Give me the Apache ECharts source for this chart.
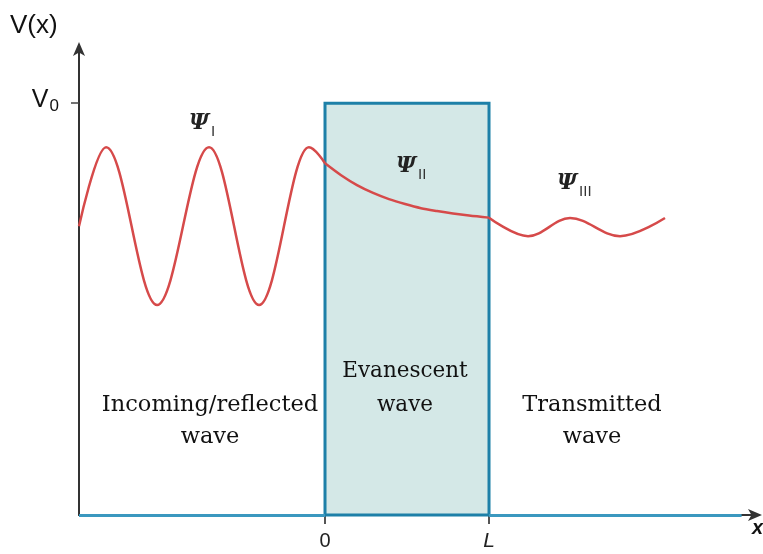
<!DOCTYPE html>
<html>
<head>
<meta charset="utf-8">
<script src="https://cdn.jsdelivr.net/npm/echarts@6/dist/echarts.min.js"></script>
<style>html,body{margin:0;padding:0;background:#fff}#c{width:763px;height:554px}</style>
</head>
<body>
<div id="c"></div>
<script>
// Units: barrier from x=0 to x=L=10, barrier height V0=10
const L = 10;
const V0 = 10;
// Region I: incoming/reflected wave (x, psi) — start, crests and troughs, entry into barrier
const waveI = [
  [-15.0, 7.01], [-13.35, 8.93], [-10.24, 5.10], [-7.07, 8.93], [-4.02, 5.10],
  [-0.98, 8.93], [0, 8.54]
];
// Region II: evanescent wave
const waveII = [
  [0, 8.54], [0.98, 8.25], [1.95, 8.01], [2.93, 7.82], [3.90, 7.67], [4.88, 7.55],
  [5.85, 7.45], [6.83, 7.38], [7.80, 7.32], [8.78, 7.27], [10, 7.22]
];
// Region III: transmitted wave — start, troughs and crests, end
const waveIII = [
  [10, 7.22], [12.38, 6.77], [14.94, 7.21], [17.99, 6.77], [20.73, 7.21]
];
const xTicks = [0, L];
const xTickLabels = ['0', 'L'];
const yTicks = [V0];

const red = '#d64a4a';
const lineBase = { type: 'line', showSymbol: false, symbol: 'none',
  lineStyle: { color: red, width: 2.5 }, z: 5, silent: true };
const psiRich = {
  p: { fontFamily: 'DejaVu Serif', fontStyle: 'italic', fontWeight: 'bold', fontSize: 22, fill: '#222' },
  s: { fontFamily: 'Liberation Sans', fontSize: 15, fill: '#333', padding: [16, 0, 0, 2] }
};
const bodyText = { align: 'center', verticalAlign: 'middle', lineHeight: 32,
  fontFamily: 'DejaVu Serif', fontSize: 22.5, fill: '#111' };

const chart = echarts.init(document.getElementById('c'));
chart.setOption({
  animation: false,
  grid: { left: 79, right: 6, top: 50, bottom: 39 },
  xAxis: {
    type: 'value', min: -15, max: 26.34,
    axisLine: { show: true, onZero: false, lineStyle: { color: '#333', width: 2 }, symbol: ['none', 'arrow'], symbolSize: [9, 14], symbolOffset: [0, 5] },
    axisTick: { show: true, customValues: xTicks, length: 9, inside: false, lineStyle: { color: '#555', width: 2 } },
    axisLabel: { customValues: xTicks, margin: 16,
      formatter: v => v === 0 ? '{n|' + xTickLabels[0] + '}' : '{l|' + xTickLabels[1] + '}',
      rich: { n: { fontFamily: 'Liberation Sans', fontSize: 20, color: '#222' },
              l: { fontFamily: 'Liberation Sans', fontStyle: 'italic', fontSize: 21, color: '#222' } } },
    splitLine: { show: false }
  },
  yAxis: {
    type: 'value', min: 0, max: 11.29,
    axisLine: { show: true, onZero: false, lineStyle: { color: '#333', width: 2 }, symbol: ['none', 'arrow'], symbolSize: [9, 14], symbolOffset: [0, 8] },
    axisTick: { show: true, customValues: yTicks, length: 8, lineStyle: { color: '#444', width: 1.5 } },
    axisLabel: { customValues: yTicks, margin: 20, padding: [0, 0, 6, 0],
      formatter: () => '{v|V}{s|0}',
      rich: { v: { fontFamily: 'Liberation Sans', fontSize: 25, color: '#111' },
              s: { fontFamily: 'Liberation Sans', fontSize: 17, color: '#111', padding: [12, 0, 0, 1] } } },
    splitLine: { show: false }
  },
  series: [
    Object.assign({}, lineBase, { name: 'I', data: waveI, smooth: 0.36, smoothMonotone: 'x',
      markArea: { silent: true, z: 1,
        itemStyle: { color: '#d4e8e7', borderColor: '#1d80a8', borderWidth: 3 },
        data: [[{ coord: [0, 0] }, { coord: [L, V0] }]] },
      markLine: { silent: true, symbol: 'none', label: { show: false }, z: 3,
        lineStyle: { color: '#3b98bf', width: 3, type: 'solid' },
        data: [[{ coord: [-15, 0] }, { coord: [0, 0] }], [{ coord: [L, 0] }, { coord: [25.4, 0] }]] } }),
    Object.assign({}, lineBase, { name: 'II', data: waveII, smooth: 0.3 }),
    Object.assign({}, lineBase, { name: 'III', data: waveIII, smooth: 0.36, smoothMonotone: 'x' })
  ],
  graphic: [
    { type: 'text', left: 10, top: 13, z: 10, style: { text: 'V(x)', fontFamily: 'Liberation Sans', fontSize: 26, fill: '#111' } },
    { type: 'text', x: 189, y: 108, z: 10, style: { text: '{p|Ψ}{s|I}', rich: psiRich } },
    { type: 'text', x: 396, y: 151, z: 10, style: { text: '{p|Ψ}{s|II}', rich: psiRich } },
    { type: 'text', x: 557, y: 168, z: 10, style: { text: '{p|Ψ}{s|III}', rich: psiRich } },
    { type: 'text', x: 210, y: 421, z: 10, style: Object.assign({ text: 'Incoming/reflected\nwave' }, bodyText) },
    { type: 'text', x: 405, y: 388, z: 10, style: Object.assign({}, bodyText, { text: 'Evanescent\nwave', lineHeight: 34, fontSize: 21.5 }) },
    { type: 'text', x: 592, y: 421, z: 10, style: Object.assign({ text: 'Transmitted\nwave' }, bodyText) },
    { type: 'text', x: 752, y: 518, z: 10, style: { text: 'x', fontFamily: 'Liberation Sans', fontStyle: 'italic', fontWeight: 'bold', fontSize: 20, fill: '#111' } }
  ]
});
</script>
</body>
</html>
